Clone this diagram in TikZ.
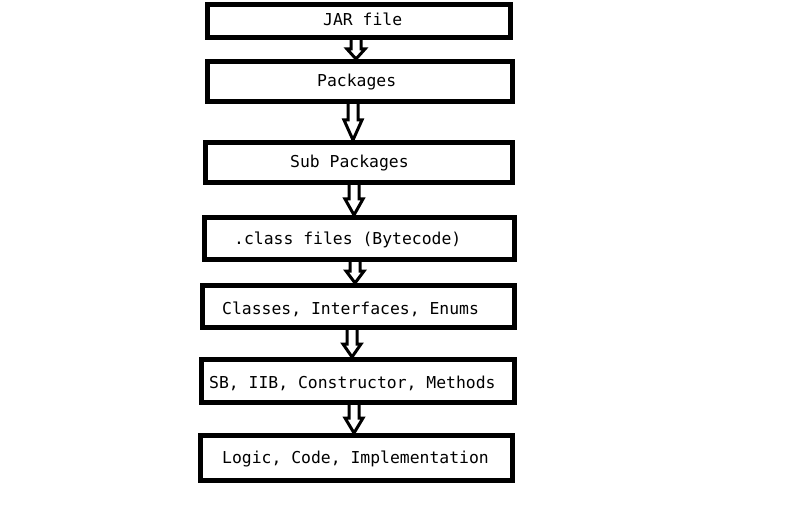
\documentclass[tikz,border=0pt]{standalone}
\usepackage{fontspec}
\newfontfamily\codefont{DejaVu Sans Mono}
\begin{document}
\begin{tikzpicture}[x=1pt,y=-1pt,
  stagebox/.style={draw=black, line width=5pt, inner sep=0pt, fill=white},
  stagetext/.style={anchor=base west, inner sep=0pt, font=\codefont\fontsize{16.4}{18}\selectfont},
  arrowline/.style={draw=black, line width=3pt, line join=miter}]
\useasboundingbox[fill=white] (0,0) rectangle (806,513);

% stage boxes (centre, path width, path height)
\node[stagebox, minimum width=303pt, minimum height=33pt] (b1) at (359,21)    {};
\node[stagebox, minimum width=305pt, minimum height=40pt] (b2) at (360,81.5)  {};
\node[stagebox, minimum width=307pt, minimum height=40pt] (b3) at (359,162.5) {};
\node[stagebox, minimum width=310pt, minimum height=42pt] (b4) at (359.5,238.5) {};
\node[stagebox, minimum width=312pt, minimum height=42pt] (b5) at (358.5,306.5) {};
\node[stagebox, minimum width=313pt, minimum height=43pt] (b6) at (358,381)   {};
\node[stagebox, minimum width=312pt, minimum height=45pt] (b7) at (356.5,458) {};

% stage labels
\node[stagetext] (t1) at (323,26)  {JAR file};
\node[stagetext] (t2) at (317,87)  {Packages};
\node[stagetext] (t3) at (290,168) {Sub Packages};
\node[stagetext] (t4) at (234,245) {.class files (Bytecode)};
\node[stagetext] (t5) at (222,314) {Classes, Interfaces, Enums};
\node[stagetext] (t6) at (209,388) {SB, IIB, Constructor, Methods};
\node[stagetext] (t7) at (222,463) {Logic, Code, Implementation};

% hollow block arrow: from node, to node, centre x, y where the head starts
\newcommand\hollowdown[4]{%
  \pgfmathsetmacro\shaftL{#3-5}\pgfmathsetmacro\shaftR{#3+5}%
  \pgfmathsetmacro\headL{#3-9}\pgfmathsetmacro\headR{#3+9}%
  \draw[arrowline] (\shaftL,0 |- #1.south) -- (\shaftL,#4) -- (\headL,#4)
    -- (#3,0 |- #2.north) -- (\headR,#4) -- (\shaftR,#4) -- (\shaftR,0 |- #1.south);
}
\hollowdown{b1}{b2}{356}{49}
\hollowdown{b2}{b3}{353}{120}
\hollowdown{b3}{b4}{354}{199}
\hollowdown{b4}{b5}{355}{271}
\hollowdown{b5}{b6}{352}{344}
\hollowdown{b6}{b7}{354}{418}
\end{tikzpicture}
\end{document}
